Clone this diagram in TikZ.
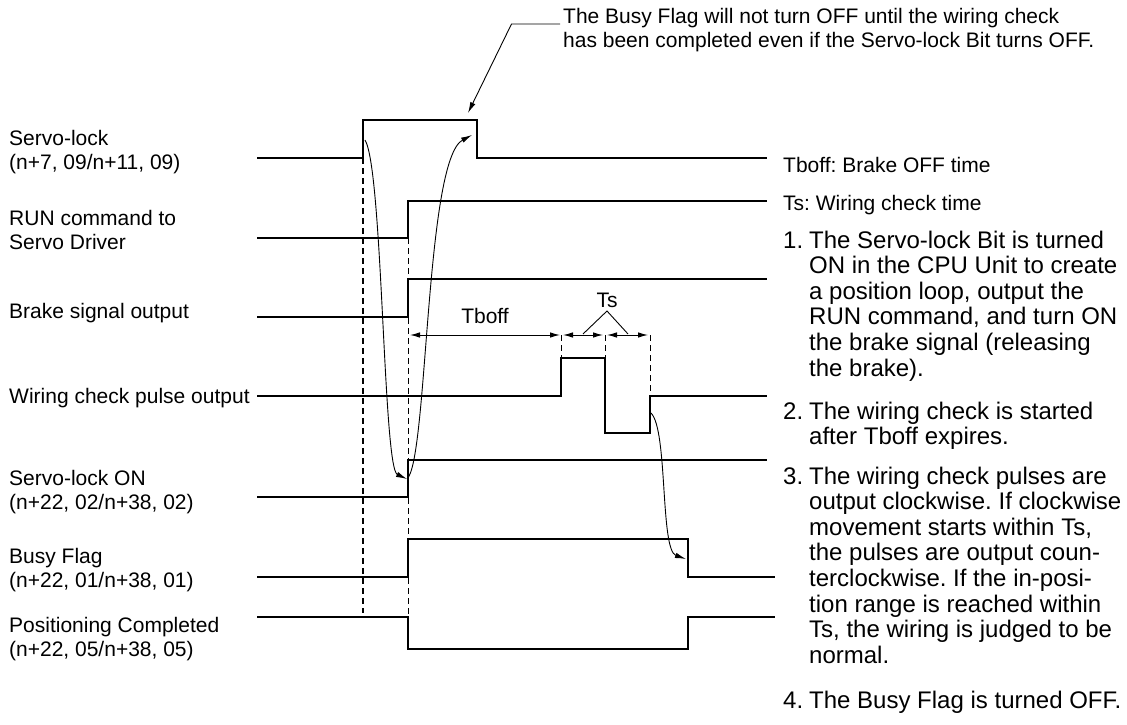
\documentclass[tikz,border=0pt]{standalone}
\usepackage{fontspec}
\setmainfont{Liberation Sans}
\usetikzlibrary{arrows.meta}
\frenchspacing
\newcommand{\mlines}[1]{\begin{tabular}[t]{@{}l@{}}#1\end{tabular}}
\begin{document}
\begin{tikzpicture}[x=1pt,y=-1pt,
  wave/.style={line width=1.6pt, line join=miter},
  guide/.style={line width=1.3pt, dash pattern=on 6pt off 4pt},
  curvy/.style={line width=0.9pt, -{Latex[length=11pt,width=5.5pt]}},
  dimarrow/.style={line width=1pt, {Latex[length=10pt,width=5.5pt]}-{Latex[length=10pt,width=5.5pt]}},
  thinline/.style={line width=0.9pt},
  lbl/.style={anchor=base west, inner sep=0pt, font=\fontsize{21}{24}\selectfont},
  dimlbl/.style={anchor=base, inner sep=0pt, font=\fontsize{21}{24}\selectfont},
  lst/.style={anchor=base west, inner sep=0pt, font=\fontsize{24}{25.6}\selectfont}]
\useasboundingbox (0,0) rectangle (1127,725);

% ---------- left labels ----------
\node[lbl] (Lsl)  at (9,145) {\mlines{Servo-lock\\(n+7, 09/n+11, 09)}};
\node[lbl] (Lrun) at (9,225) {\mlines{RUN command to\\Servo Driver}};
\node[lbl] (Lbrk) at (9,318) {Brake signal output};
\node[lbl] (Lwc)  at (9,403) {Wiring check pulse output};
\node[lbl] (Lson) at (9,485) {\mlines{Servo-lock ON\\(n+22, 02/n+38, 02)}};
\node[lbl] (Lbsy) at (9,563) {\mlines{Busy Flag\\(n+22, 01/n+38, 01)}};
\node[lbl] (Lpos) at (9,632) {\mlines{Positioning Completed\\(n+22, 05/n+38, 05)}};

% ---------- waveforms ----------
% Servo-lock
\coordinate (slA) at (257,158); \coordinate (slR) at (363,158);
\coordinate (slF) at (477,158); \coordinate (slB) at (767,158);
\draw[wave] (slA) -- (slR) -- (363,120) -- (477,120) -- (slF) -- (slB);
% RUN command
\coordinate (rnA) at (257,238); \coordinate (rnR) at (408,238); \coordinate (rnB) at (767,201);
\draw[wave] (rnA) -- (rnR) -- (408,201) -- (rnB);
% Brake signal
\coordinate (bkA) at (257,317); \coordinate (bkR) at (408,317); \coordinate (bkB) at (767,279);
\draw[wave] (bkA) -- (bkR) -- (408,279) -- (bkB);
% Wiring check pulse
\coordinate (wcA) at (257,396); \coordinate (wc1) at (561,396); \coordinate (wc2) at (561,358);
\coordinate (wc3) at (605,358); \coordinate (wc4) at (605,433); \coordinate (wc5) at (650,433);
\coordinate (wc6) at (650,396); \coordinate (wcB) at (767,396);
\draw[wave] (wcA) -- (wc1) -- (wc2) -- (wc3) -- (wc4) -- (wc5) -- (wc6) -- (wcB);
% Servo-lock ON
\coordinate (soA) at (257,497); \coordinate (soR) at (408,497); \coordinate (soB) at (767,460);
\draw[wave] (soA) -- (soR) -- (408,460) -- (soB);
% Busy flag
\coordinate (byA) at (257,577); \coordinate (byR) at (408,577);
\coordinate (byF) at (688,539); \coordinate (byB) at (775,577);
\draw[wave] (byA) -- (byR) -- (408,539) -- (byF) -- (688,577) -- (byB);
% Positioning completed
\coordinate (pcA) at (257,617); \coordinate (pcF) at (408,617);
\coordinate (pcR) at (688,649); \coordinate (pcB) at (775,617);
\draw[wave] (pcA) -- (pcF) -- (408,649) -- (pcR) -- (688,617) -- (pcB);

% ---------- dashed guides ----------
\coordinate (g1t) at (363,158); \coordinate (g1b) at (363,613);
\coordinate (g2t) at (408,238); \coordinate (g2b) at (408,617);
\draw[guide] (g1t) -- (g1b);
\draw[guide, line width=1pt] (g2t) -- (g2b);
\coordinate (t1) at (561,335); \coordinate (t2) at (605,335); \coordinate (t3) at (650,335);
\draw[guide, line width=1pt] (t1) -- (wc2);
\draw[guide, line width=1pt] (t2) -- (wc3);
\draw[guide, line width=1pt] (t3) -- (wc6);

% ---------- Tboff / Ts dimensions ----------
\coordinate (tb0) at (410,335);
\draw[dimarrow] (tb0) -- ([xshift=-1pt]t1);
\node[dimlbl] (Tboff) at (485,323) {Tboff};
\draw[dimarrow] ([xshift=2pt]t1) -- ([xshift=-2pt]t2);
\draw[dimarrow] ([xshift=2pt]t2) -- ([xshift=-2pt]t3);
\node[dimlbl] (Ts) at (607,307) {Ts};
\coordinate (tsApex) at (607,311);
\draw[thinline] (583,334) -- (tsApex) -- (628,334);

% ---------- curved arrows ----------
\coordinate (cA0) at (365,140); \coordinate (cA1) at (407,479);
\coordinate (cB1) at (472,135);
\coordinate (cC0) at (651,413); \coordinate (cC1) at (686,559);
\draw[curvy] (cA0) .. controls (383,170) and (383,468) .. (cA1);
\draw[curvy] (cA1) .. controls (428,460) and (425,160) .. (cB1);
\draw[curvy] (cC0) .. controls (668,430) and (660,550) .. (cC1);

% ---------- top annotation ----------
\node[lbl] (note) at (563,23.5) {\mlines{The Busy Flag will not turn OFF until the wiring check\\has been completed even if the Servo-lock Bit turns OFF.}};
\coordinate (nk) at (511.5,24); \coordinate (ntip) at (468,113);
\draw[thinline, -{Latex[length=11pt,width=5.5pt]}] (560,24) -- (nk) -- (ntip);

% ---------- right-hand legend ----------
\node[lbl] (Ltb) at (783,172) {Tboff: Brake OFF time};
\node[lbl] (Lts) at (783,210) {Ts: Wiring check time};

\node[lst] (n1) at (783,248) {1.};
\node[lst] (i1) at (809,248) {\mlines{The Servo-lock Bit is turned\\ON in the CPU Unit to create\\a position loop, output the\\RUN command, and turn ON\\the brake signal (releasing\\the brake).}};
\node[lst] (n2) at (783,419) {2.};
\node[lst] (i2) at (809,419) {\mlines{The wiring check is started\\after Tboff expires.}};
\node[lst] (n3) at (783,484) {3.};
\node[lst] (i3) at (809,484) {\mlines{The wiring check pulses are\\output clockwise. If clockwise\\movement starts within Ts,\\the pulses are output coun-\\terclockwise. If the in-posi-\\tion range is reached within\\Ts, the wiring is judged to be\\normal.}};
\node[lst] (n4) at (783,708) {4.};
\node[lst] (i4) at (809,708) {The Busy Flag is turned OFF.};
\end{tikzpicture}
\end{document}
